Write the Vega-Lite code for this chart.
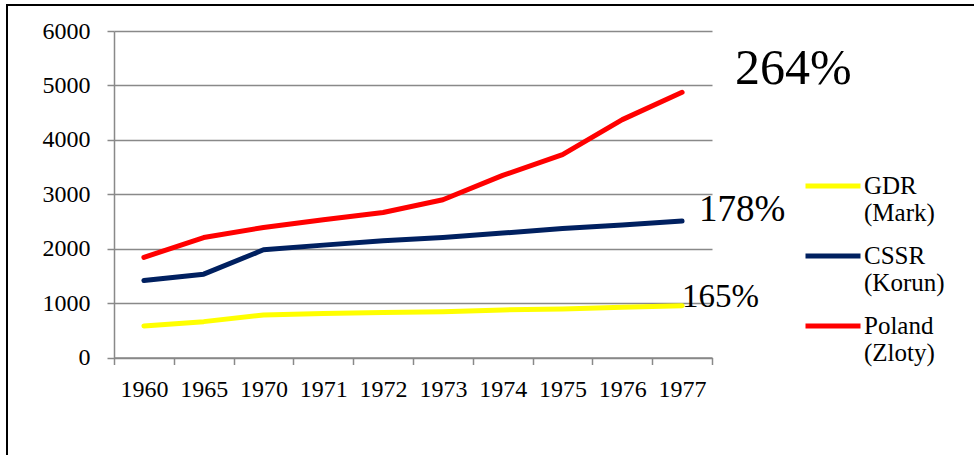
{
  "$schema": "https://vega.github.io/schema/vega-lite/v6.json",
  "width": 975,
  "height": 458,
  "autosize": {"type": "none"},
  "padding": {"left": 7, "top": 5, "right": -8, "bottom": -8},
  "background": "white",
  "config": {
    "font": "Liberation Serif, DejaVu Serif, serif",
    "view": {"stroke": "#000000", "strokeWidth": 2},
    "text": {"font": "Liberation Serif, DejaVu Serif, serif"},
    "axis": {
      "labelFont": "Liberation Serif, DejaVu Serif, serif",
      "labelFontSize": 24,
      "labelColor": "#000000",
      "domainColor": "#898989",
      "domainWidth": 1.5,
      "tickColor": "#898989",
      "tickWidth": 1.5,
      "tickSize": 7,
      "gridColor": "#898989",
      "gridWidth": 1.5,
      "title": null
    },
    "legend": {
      "labelFont": "Liberation Serif, DejaVu Serif, serif",
      "labelFontSize": 25,
      "labelColor": "#000000"
    }
  },
  "datasets": {
    "wages": [
      {"year": "1960", "country": "GDR (Mark)", "value": 580},
      {"year": "1965", "country": "GDR (Mark)", "value": 659},
      {"year": "1970", "country": "GDR (Mark)", "value": 782},
      {"year": "1971", "country": "GDR (Mark)", "value": 807},
      {"year": "1972", "country": "GDR (Mark)", "value": 825},
      {"year": "1973", "country": "GDR (Mark)", "value": 843},
      {"year": "1974", "country": "GDR (Mark)", "value": 874},
      {"year": "1975", "country": "GDR (Mark)", "value": 893},
      {"year": "1976", "country": "GDR (Mark)", "value": 924},
      {"year": "1977", "country": "GDR (Mark)", "value": 953},
      {"year": "1960", "country": "CSSR (Korun)", "value": 1414},
      {"year": "1965", "country": "CSSR (Korun)", "value": 1531},
      {"year": "1970", "country": "CSSR (Korun)", "value": 1979},
      {"year": "1971", "country": "CSSR (Korun)", "value": 2065},
      {"year": "1972", "country": "CSSR (Korun)", "value": 2144},
      {"year": "1973", "country": "CSSR (Korun)", "value": 2205},
      {"year": "1974", "country": "CSSR (Korun)", "value": 2286},
      {"year": "1975", "country": "CSSR (Korun)", "value": 2371},
      {"year": "1976", "country": "CSSR (Korun)", "value": 2433},
      {"year": "1977", "country": "CSSR (Korun)", "value": 2507},
      {"year": "1960", "country": "Poland (Zloty)", "value": 1840},
      {"year": "1965", "country": "Poland (Zloty)", "value": 2205},
      {"year": "1970", "country": "Poland (Zloty)", "value": 2390},
      {"year": "1971", "country": "Poland (Zloty)", "value": 2530},
      {"year": "1972", "country": "Poland (Zloty)", "value": 2665},
      {"year": "1973", "country": "Poland (Zloty)", "value": 2900},
      {"year": "1974", "country": "Poland (Zloty)", "value": 3346},
      {"year": "1975", "country": "Poland (Zloty)", "value": 3727},
      {"year": "1976", "country": "Poland (Zloty)", "value": 4371},
      {"year": "1977", "country": "Poland (Zloty)", "value": 4874}
    ]
  },
  "encoding": {
    "x": {
      "field": "year",
      "type": "ordinal",
      "scale": {"type": "band", "range": [107, 705], "paddingInner": 0, "paddingOuter": 0},
      "axis": {
        "orient": "bottom",
        "offset": -105.5,
        "grid": false,
        "tickBand": "extent",
        "labelAngle": 0,
        "labelPadding": 13,
        "labelOverlap": false,
        "labelFlush": false
      }
    },
    "y": {
      "field": "value",
      "type": "quantitative",
      "scale": {"domain": [0, 6000], "range": [352.5, 26], "nice": false, "zero": true},
      "axis": {
        "orient": "left",
        "offset": -107,
        "values": [0, 1000, 2000, 3000, 4000, 5000, 6000],
        "format": "d",
        "grid": true,
        "labelPadding": 17
      }
    }
  },
  "layer": [
    {
      "data": {"name": "wages"},
      "mark": {"type": "line", "strokeWidth": 5, "strokeCap": "round", "strokeJoin": "round"},
      "encoding": {
        "color": {
          "field": "country",
          "type": "nominal",
          "scale": {
            "domain": ["GDR (Mark)", "CSSR (Korun)", "Poland (Zloty)"],
            "range": ["#FFFF00", "#002060", "#FF0000"]
          },
          "legend": {
            "title": null,
            "orient": "none",
            "legendX": 796,
            "legendY": 151,
            "padding": 0,
            "symbolType": "stroke",
            "symbolSize": 3025,
            "symbolStrokeWidth": 5,
            "labelOffset": 1,
            "labelExpr": "split(datum.label, ' ')",
            "labelLimit": 200,
            "rowPadding": -6
          }
        }
      }
    },
    {
      "data": {"values": [{"year": "1977", "value": 4874, "label": "264%"}]},
      "mark": {"type": "text", "align": "left", "baseline": "alphabetic", "dx": 53, "dy": -8, "fontSize": 50, "color": "#000000"},
      "encoding": {"text": {"field": "label"}}
    },
    {
      "data": {"values": [{"year": "1977", "value": 2507, "label": "178%"}]},
      "mark": {"type": "text", "align": "left", "baseline": "alphabetic", "dx": 17, "dy": 0, "fontSize": 37, "color": "#000000"},
      "encoding": {"text": {"field": "label"}}
    },
    {
      "data": {"values": [{"year": "1977", "value": 953, "label": "165%"}]},
      "mark": {"type": "text", "align": "left", "baseline": "alphabetic", "dx": 0, "dy": 1, "fontSize": 33, "color": "#000000"},
      "encoding": {"text": {"field": "label"}}
    }
  ]
}
